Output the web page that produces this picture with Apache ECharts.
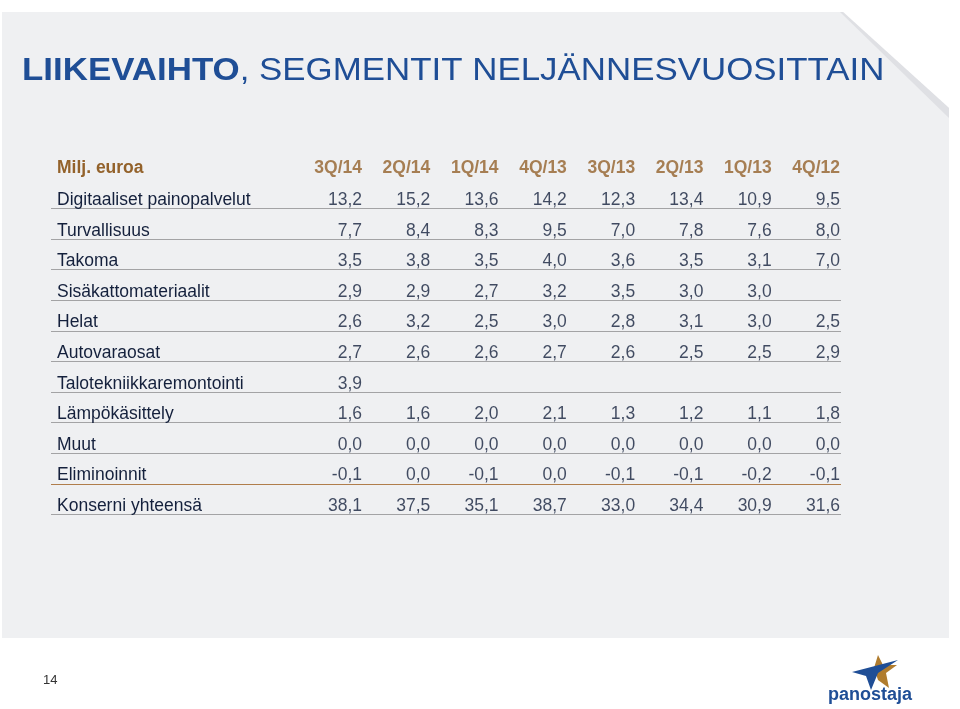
<!DOCTYPE html>
<html>
<head>
<meta charset="utf-8">
<script src="https://cdn.jsdelivr.net/npm/echarts@6/dist/echarts.min.js"></script>
<style>html,body{margin:0;padding:0;background:#fff;}#c{width:960px;height:709px;}</style>
</head>
<body>
<div id="c"></div>
<script>
// ---- data ----
const headerLabel = 'Milj. euroa';
const quarters = ['3Q/14', '2Q/14', '1Q/14', '4Q/13', '3Q/13', '2Q/13', '1Q/13', '4Q/12'];
const segments = ['Digitaaliset painopalvelut', 'Turvallisuus', 'Takoma', 'Sisäkattomateriaalit', 'Helat',
  'Autovaraosat', 'Talotekniikkaremontointi', 'Lämpökäsittely', 'Muut', 'Eliminoinnit', 'Konserni yhteensä'];
const digitaaliset = [13.2, 15.2, 13.6, 14.2, 12.3, 13.4, 10.9, 9.5];
const turvallisuus = [7.7, 8.4, 8.3, 9.5, 7.0, 7.8, 7.6, 8.0];
const takoma = [3.5, 3.8, 3.5, 4.0, 3.6, 3.5, 3.1, 7.0];
const sisakatto = [2.9, 2.9, 2.7, 3.2, 3.5, 3.0, 3.0, null];
const helat = [2.6, 3.2, 2.5, 3.0, 2.8, 3.1, 3.0, 2.5];
const autovaraosat = [2.7, 2.6, 2.6, 2.7, 2.6, 2.5, 2.5, 2.9];
const talotekniikka = [3.9, null, null, null, null, null, null, null];
const lampokasittely = [1.6, 1.6, 2.0, 2.1, 1.3, 1.2, 1.1, 1.8];
const muut = [0.0, 0.0, 0.0, 0.0, 0.0, 0.0, 0.0, 0.0];
const eliminoinnit = [-0.1, 0.0, -0.1, 0.0, -0.1, -0.1, -0.2, -0.1];
const konserni = [38.1, 37.5, 35.1, 38.7, 33.0, 34.4, 30.9, 31.6];
const rowValues = [digitaaliset, turvallisuus, takoma, sisakatto, helat, autovaraosat,
  talotekniikka, lampokasittely, muut, eliminoinnit, konserni];
const titleBold = 'LIIKEVAIHTO';
const titleRest = ', SEGMENTIT NELJÄNNESVUOSITTAIN';
const pageNumber = '14';

// ---- build ----
const FONT = '"Liberation Sans", Arial, sans-serif';
const NAVY = '#14203c';
const BROWN = '#93622b';
const BLUE = '#1f4e96';
const categories = [headerLabel].concat(segments);

const cellData = [];
rowValues.forEach((vals, r) => {
  vals.forEach((v, c) => {
    if (v !== null) cellData.push({ value: [c + 1, segments[r]], num: v });
  });
});
const headerData = quarters.map((q, c) => ({ value: [c + 1, headerLabel], name: q }));

const lineColors = ['rgba(0,0,0,0)', 'rgba(0,0,0,0)'];
for (let i = 0; i < 9; i++) lineColors.push('#a3a3a5');
lineColors.push('#b07d4b');
lineColors.push('#a3a3a5');

const chart = echarts.init(document.getElementById('c'), null, { renderer: 'canvas' });
chart.setOption({
  animation: false,
  backgroundColor: '#ffffff',
  graphic: [
    { type: 'polygon', z: -10, shape: { points: [[2, 12], [843, 12], [949, 108], [949, 638], [2, 638]] },
      style: { fill: '#eff0f2' } },
    { type: 'polygon', z: -9, shape: { points: [[843, 12], [949, 108], [949, 118], [840, 12]] },
      style: { fill: '#dfe0e4' } },
    { type: 'text', x: 22, y: 71, scaleX: 1.09, z: 10,
      style: {
        text: '{b|' + titleBold + '}{n|' + titleRest + '}',
        verticalAlign: 'middle', align: 'left',
        rich: {
          b: { fontFamily: FONT, fontSize: 32, fontWeight: 'bold', fill: BLUE },
          n: { fontFamily: FONT, fontSize: 32, fontWeight: 'normal', fill: BLUE }
        }
      } },
    { type: 'text', left: 43, top: 674, style: { text: pageNumber, font: '13px ' + FONT, fill: '#333' } },
    { type: 'polygon', shape: { points: [[878, 655], [883, 665], [897, 665], [886, 673], [889, 688], [878, 680], [874, 668]] },
      style: { fill: '#b07c2e' } },
    { type: 'polygon', shape: { points: [[852, 672], [898, 660], [878, 673], [871, 690], [866, 676]] },
      style: { fill: '#1f4e96' } },
    { type: 'text', left: 828, top: 686, style: { text: 'panostaja', font: 'bold 18px ' + FONT, fill: '#1f4e96' } }
  ],
  grid: { left: 51, right: 119, top: 147.3, height: 367.2 },
  xAxis: {
    type: 'value', min: -3.555, max: 8.015, show: false,
    axisLine: { show: false }, splitLine: { show: false }
  },
  yAxis: {
    type: 'category', inverse: true, data: categories, boundaryGap: true,
    axisLine: { show: false }, axisTick: { show: false },
    axisLabel: {
      inside: true, margin: 6, align: 'left', padding: [14, 0, 0, 0],
      fontFamily: FONT, fontSize: 17.5, color: NAVY,
      formatter: (v, i) => i === 0 ? '{h|' + v + '}' : '{r|' + v + '}',
      rich: {
        h: { fontFamily: FONT, fontSize: 17.5, fontWeight: 'bold', color: BROWN, padding: [0, 0, 2, 0] },
        r: { fontFamily: FONT, fontSize: 17.5, color: NAVY }
      }
    },
    splitLine: { show: true, lineStyle: { color: lineColors, width: 1 } }
  },
  series: [
    {
      type: 'scatter', symbolSize: 0, data: cellData, silent: true,
      label: {
        show: true, position: 'inside', align: 'right', verticalAlign: 'middle', offset: [0, 7],
        fontFamily: FONT, fontSize: 17.5, color: NAVY,
        formatter: p => p.data.num.toFixed(1).replace('.', ',')
      }
    },
    {
      type: 'scatter', symbolSize: 0, data: headerData, silent: true,
      label: {
        show: true, position: 'inside', align: 'right', verticalAlign: 'middle', offset: [0, 5.5],
        fontFamily: FONT, fontSize: 17.5, fontWeight: 'bold', color: BROWN,
        formatter: p => p.name
      }
    }
  ]
});
</script>
</body>
</html>
